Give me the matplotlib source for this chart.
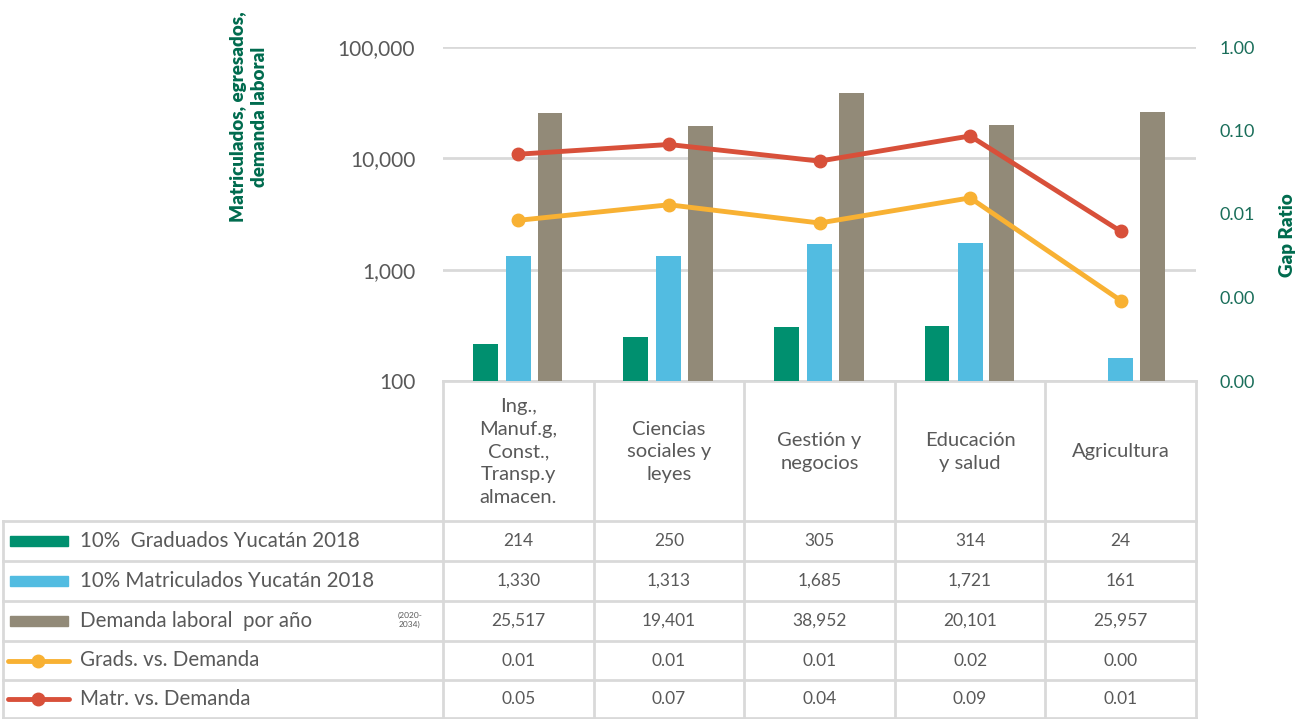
import numpy as np
import matplotlib.pyplot as plt
from matplotlib.ticker import FuncFormatter, FixedLocator

plt.rcParams['font.family'] = ['Lato', 'DejaVu Sans']

# datos
categorias = ['Ing.,\nManuf.g,\nConst.,\nTransp.y\nalmacen.', 'Ciencias\nsociales y\nleyes',
              'Gestión y\nnegocios', 'Educación\ny salud', 'Agricultura']
graduados = [214, 250, 305, 314, 24]
matriculados = [1330, 1313, 1685, 1721, 161]
demanda = [25517, 19401, 38952, 20101, 25957]
grads_vs_dem = [0.0084, 0.0129, 0.0078, 0.0156, 0.00092]
matr_vs_dem = [0.052, 0.068, 0.043, 0.086, 0.0062]

series_nombres = ['10%  Graduados Yucatán 2018', '10% Matriculados Yucatán 2018',
                  'Demanda laboral  por año', 'Grads. vs. Demanda', 'Matr. vs. Demanda']

verde = '#00906F'
azul = '#52BCE1'
gris = '#928A78'
amarillo = '#F8B133'
rojo = '#D8503A'
texto = '#595959'
verde_osc = '#006B4E'
linea = '#D9D9D9'

W, H = 1297, 719
fig = plt.figure(figsize=(W / 100, H / 100), dpi=100)

# tabla / fondo en coordenadas de pixel
tab = fig.add_axes([0, 0, 1, 1])
tab.set_xlim(0, W)
tab.set_ylim(H, 0)
tab.axis('off')

x0, x1 = 443, 1196
col_w = (x1 - x0) / 5
ax = fig.add_axes([x0 / W, 1 - 381 / H, (x1 - x0) / W, (381 - 47) / H])
ax.set_zorder(2)
ax.patch.set_alpha(0)

x = np.arange(5)
ax.set_yscale('log')
ax.bar(x - 0.22, graduados, 0.165, color=verde, zorder=3)
ax.bar(x, matriculados, 0.165, color=azul, zorder=3)
ax.bar(x + 0.21, demanda, 0.165, color=gris, zorder=3)
ax.set_ylim(100, 100000)
ax.set_xlim(-0.5, 4.5)
ax.yaxis.set_major_locator(FixedLocator([100, 1000, 10000, 100000]))
ax.yaxis.set_minor_locator(FixedLocator([]))
ax.yaxis.set_major_formatter(FuncFormatter(lambda v, p: f'{v:,.0f}'))
ax.set_xticks([])
ax.tick_params(axis='y', length=0, pad=20, labelsize=15, labelcolor=texto)
ax.grid(axis='y', color=linea, lw=2, zorder=0)
for s in ax.spines.values():
    s.set_visible(False)

ax2 = ax.twinx()
ax2.set_yscale('log')
ax2.plot(x, grads_vs_dem, color=amarillo, lw=3.5, marker='o', ms=9, zorder=4)
ax2.plot(x, matr_vs_dem, color=rojo, lw=3.5, marker='o', ms=9, zorder=4)
ax2.set_ylim(0.0001, 1)
ax2.yaxis.set_major_locator(FixedLocator([0.0001, 0.001, 0.01, 0.1, 1]))
ax2.yaxis.set_minor_locator(FixedLocator([]))
ax2.yaxis.set_major_formatter(FuncFormatter(lambda v, p: f'{v:.2f}'))
ax2.tick_params(axis='y', length=0, pad=17, labelsize=13, labelcolor='#1A6E5A')
for s in ax2.spines.values():
    s.set_visible(False)

fig.text(249 / W, 1 - 117 / H, 'Matriculados, egresados,\ndemanda laboral', rotation=90,
         ha='center', va='center', fontsize=13.5, fontweight='heavy', color=verde_osc,
         linespacing=1.35)
fig.text(1287 / W, 1 - 235 / H, 'Gap Ratio', rotation=90, ha='center', va='center',
         fontsize=13.5, fontweight='heavy', color=verde_osc)

# lineas de la tabla
filas = [381, 521, 561, 601, 641, 680, 718]
cols = [x0 + col_w * i for i in range(6)]
for y in filas[1:]:
    tab.plot([3, x1], [y, y], color=linea, lw=2)
tab.plot([x0, x1], [381, 381], color=linea, lw=2)
for c in cols:
    tab.plot([c, c], [381, 718], color=linea, lw=2)
tab.plot([3, 3], [521, 718], color=linea, lw=2)

# encabezados de categorias
for i, cat in enumerate(categorias):
    tab.text(cols[i] + col_w / 2, 452, cat, ha='center', va='center', fontsize=14.5,
             color=texto, linespacing=1.42)

# valores
valores = [
    [f'{v:,}' for v in graduados],
    [f'{v:,}' for v in matriculados],
    [f'{v:,}' for v in demanda],
    [f'{v:.2f}' for v in grads_vs_dem],
    [f'{v:.2f}' for v in matr_vs_dem],
]
for r, fila in enumerate(valores):
    yc = (filas[r + 1] + filas[r + 2]) / 2
    for i, v in enumerate(fila):
        tab.text(cols[i] + col_w / 2, yc, v, ha='center', va='center', fontsize=12.5,
                 color=texto)
    tab.text(80, yc, series_nombres[r], ha='left', va='center', fontsize=14.8, color=texto)

# claves de la leyenda
for r, col in enumerate([verde, azul, gris]):
    yc = (filas[r + 1] + filas[r + 2]) / 2
    tab.add_patch(plt.Rectangle((10, yc - 5), 58, 10, color=col))
for r, col in zip([3, 4], [amarillo, rojo]):
    yc = (filas[r + 1] + filas[r + 2]) / 2
    tab.plot([8, 69], [yc, yc], color=col, lw=3.5, solid_capstyle='round')
    tab.plot([38], [yc], marker='o', ms=9, color=col)
tab.text(410, 620, '(2020-\n2034)', ha='center', va='center', fontsize=6, color=texto)

fig.savefig('out.png', dpi=100)
